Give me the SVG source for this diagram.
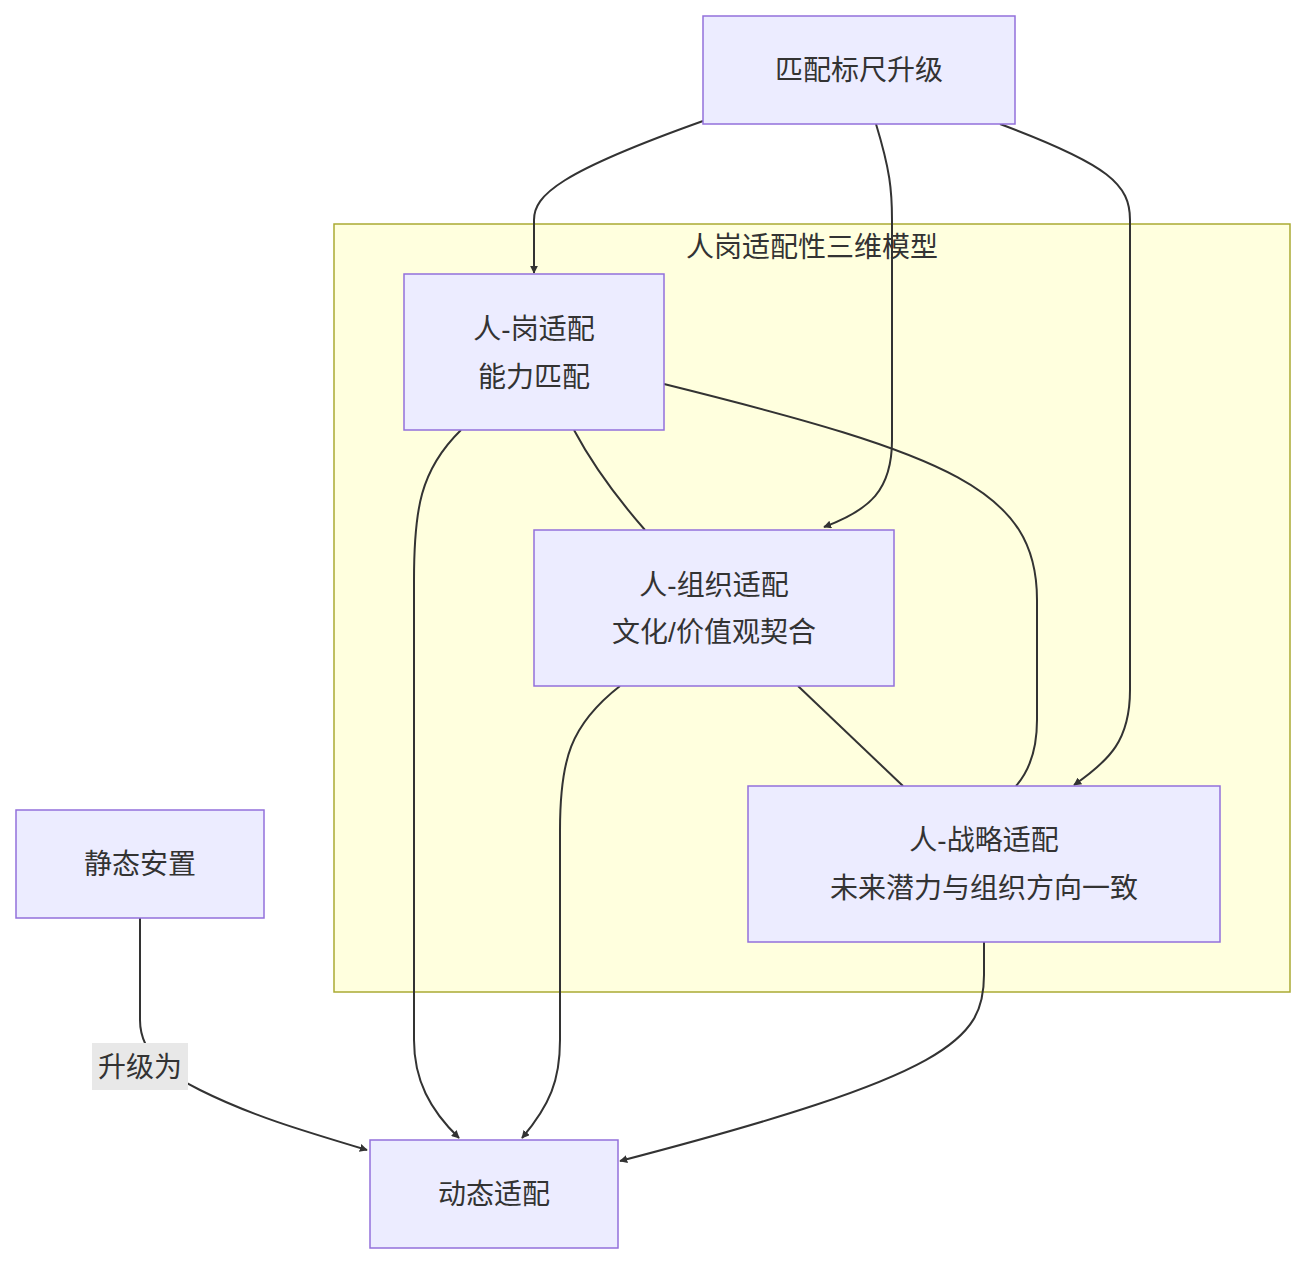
<svg xmlns="http://www.w3.org/2000/svg" width="1306" height="1264" viewBox="0 0 1306 1264">
<style>
.n{fill:#ececff;stroke:#9370db;stroke-width:1.5}
.t{font-family:"Liberation Sans","Noto Sans CJK SC",sans-serif;font-size:28px;fill:#333;text-anchor:middle}
.e{fill:none;stroke:#333;stroke-width:2}
</style>
<defs><marker id="a" viewBox="0 0 10 10" refX="9" refY="5" markerWidth="8" markerHeight="8" markerUnits="userSpaceOnUse" orient="auto"><path d="M0,0L10,5L0,10z" fill="#333"/></marker></defs>
<rect width="1306" height="1264" fill="#fff"/>
<g id="cluster"><rect x="334" y="224" width="956" height="768" fill="#ffffde" stroke="#aaaa33" stroke-width="1.5"/><text class="t" x="812" y="257">人岗适配性三维模型</text></g>
<g id="edges">
<path class="e" marker-end="url(#a)" d="M703,121 C560,172 534,195 534,220 L534,273"/>
<path class="e" marker-end="url(#a)" d="M876,124 C890,170 892,190 892,220 L892,440 C892,490 870,510 824,527"/>
<path class="e" marker-end="url(#a)" d="M1000,124 C1110,165 1130,185 1130,220 L1130,690 C1130,740 1110,760 1074,785"/>
<path class="e" d="M574,430 C590,460 610,490 645,530"/>
<path class="e" d="M664,384 C950,455 1037,490 1037,600 L1037,720 C1037,750 1030,770 1016,786"/>
<path class="e" d="M798,686 L903,786"/>
<path class="e" marker-end="url(#a)" d="M461,430 C420,470 414,510 414,580 L414,1040 C414,1080 430,1110 459,1138"/>
<path class="e" marker-end="url(#a)" d="M620,686 C570,725 560,760 560,830 L560,1040 C560,1080 550,1105 522,1138"/>
<path class="e" marker-end="url(#a)" d="M984,942 L984,975 C984,1040 950,1075 620,1161"/>
<path class="e" marker-end="url(#a)" d="M140,918 L140,1020 C140,1060 180,1080 200,1090 C250,1115 300,1130 367,1150"/>
<rect x="92" y="1043" width="96" height="47" fill="#e8e8e8"/>
<text class="t" x="140" y="1077">升级为</text>
</g>
<g id="n1"><rect class="n" x="703" y="16" width="312" height="108"/><text class="t" x="859" y="80">匹配标尺升级</text></g>
<g id="n2"><rect class="n" x="404" y="274" width="260" height="156"/><text class="t" x="534" y="339">人-岗适配</text><text class="t" x="534" y="387">能力匹配</text></g>
<g id="n3"><rect class="n" x="534" y="530" width="360" height="156"/><text class="t" x="714" y="595">人-组织适配</text><text class="t" x="714" y="642">文化/价值观契合</text></g>
<g id="n4"><rect class="n" x="748" y="786" width="472" height="156"/><text class="t" x="984" y="850">人-战略适配</text><text class="t" x="984" y="898">未来潜力与组织方向一致</text></g>
<g id="n5"><rect class="n" x="16" y="810" width="248" height="108"/><text class="t" x="140" y="874">静态安置</text></g>
<g id="n6"><rect class="n" x="370" y="1140" width="248" height="108"/><text class="t" x="494" y="1204">动态适配</text></g>
</svg>
